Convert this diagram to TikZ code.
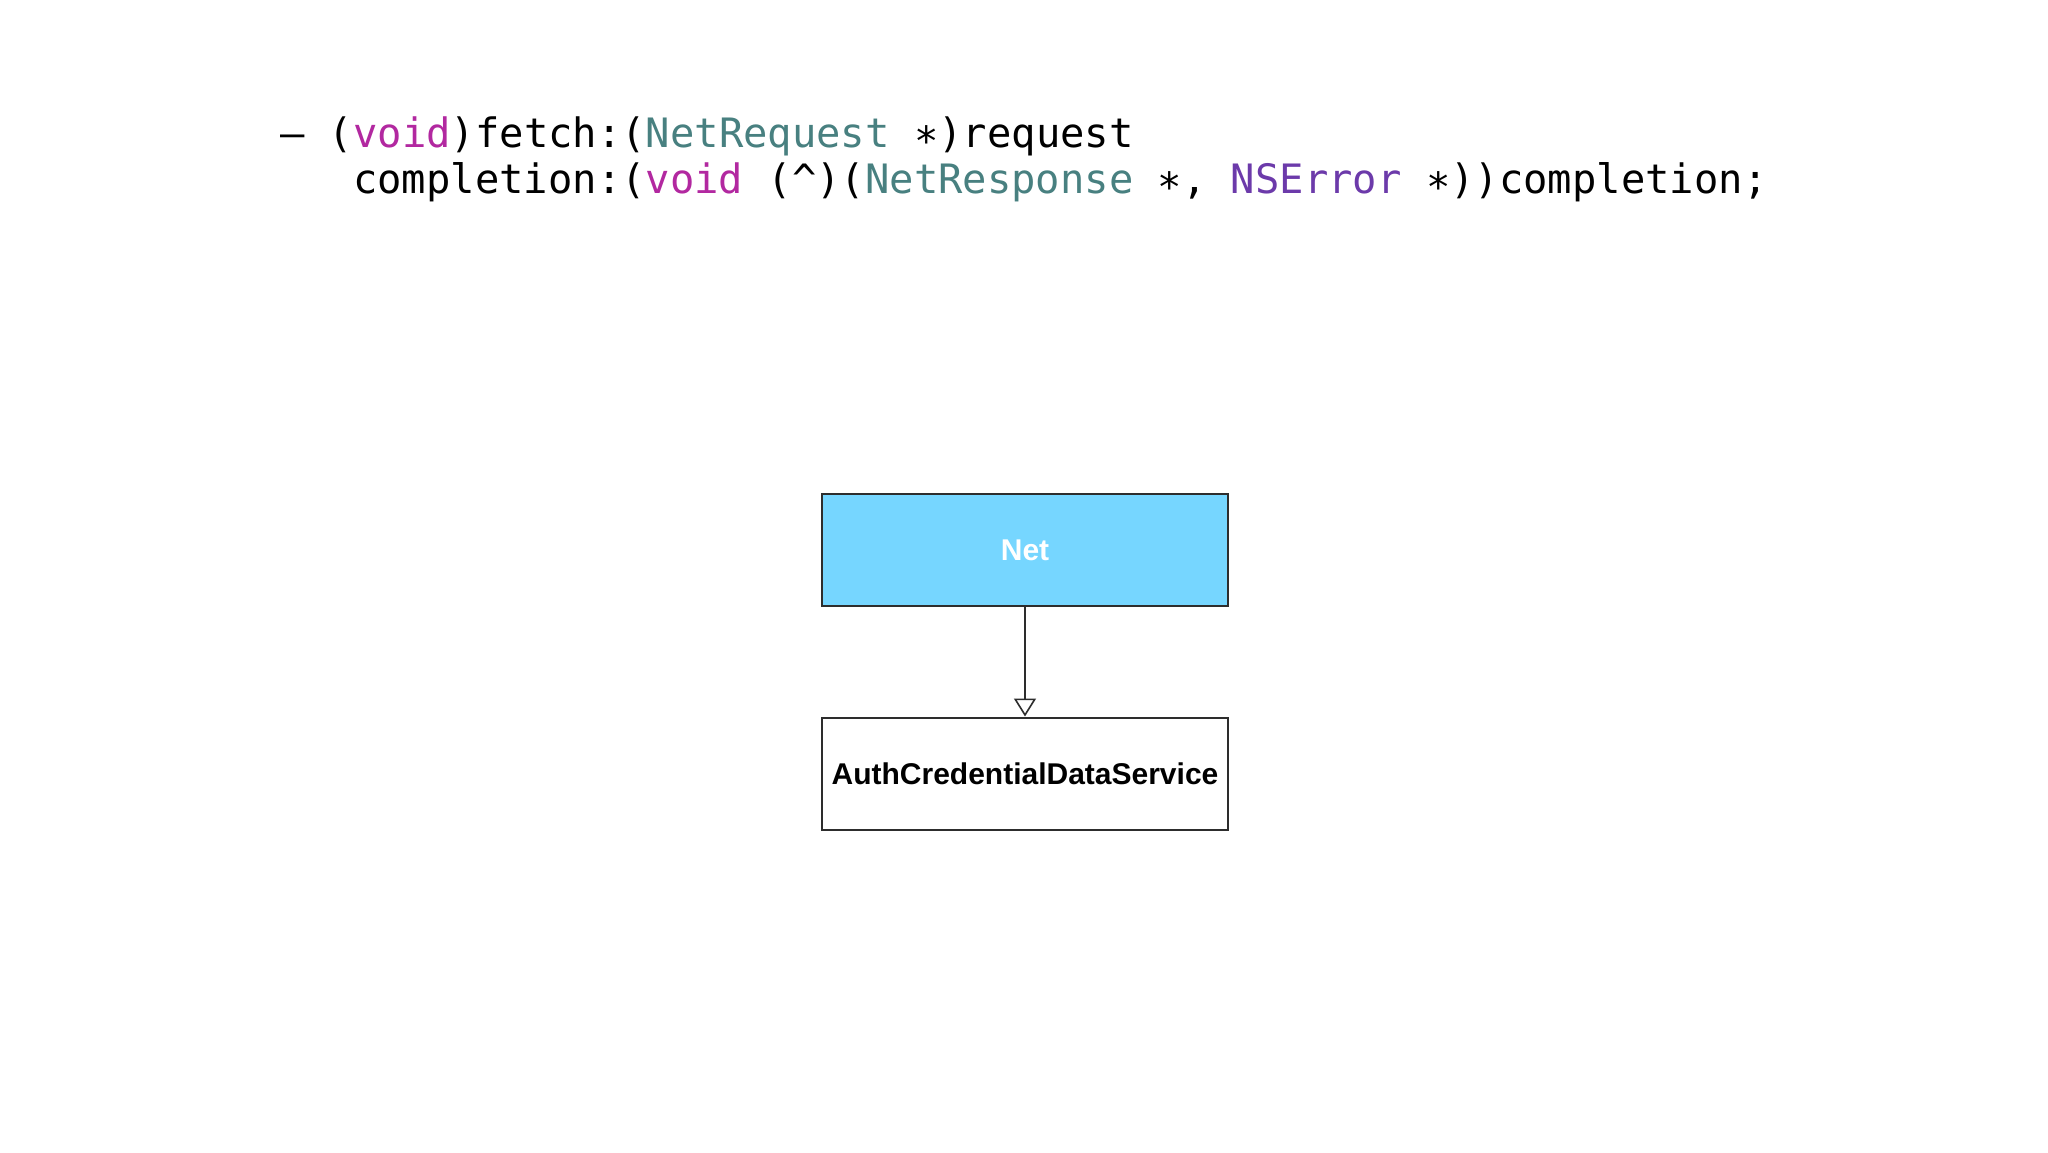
\documentclass[tikz,border=0pt]{standalone}
\usepackage{fontspec}
\setmainfont{Liberation Sans}
\newfontfamily\codefont{DejaVu Sans Mono}
\usetikzlibrary{arrows.meta}
\definecolor{kwcol}{RGB}{178,40,160}
\definecolor{typecol}{RGB}{72,128,128}
\definecolor{syscol}{RGB}{108,58,170}
\definecolor{netfill}{RGB}{118,214,255}
\definecolor{edgecol}{RGB}{45,45,45}
\tikzset{
  codeline/.style={anchor=base west, inner sep=0pt, font=\codefont\fontsize{40.5}{46}\selectfont},
  classbox/.style={draw=edgecol, line width=2pt, minimum width=406pt, minimum height=112pt, inner sep=0pt, font=\fontsize{30}{34}\selectfont\bfseries},
  inherit/.style={draw=edgecol, line width=1.6pt, -{Triangle[open, length=18pt, width=22pt, line width=1.6pt]}}
}
\begin{document}
\begin{tikzpicture}[x=1pt, y=-1pt]
\useasboundingbox[fill=white] (0,0) rectangle (2048,1152);
\node[codeline] (code1) at (280,147) {–\ (\textcolor{kwcol}{void})fetch:(\textcolor{typecol}{NetRequest} ∗)request};
\node[codeline] (code2) at (353,193) {completion:(\textcolor{kwcol}{void} (\^{})(\textcolor{typecol}{NetResponse} ∗, \textcolor{syscol}{NSError} ∗))completion;};
\node[classbox, fill=netfill, text=white] (net) at (1025,550) {Net};
\node[classbox, fill=white, text=black] (auth) at (1025,773.5) {AuthCredentialDataService};
\draw[inherit] (net.south) -- (auth.north);
\end{tikzpicture}
\end{document}
